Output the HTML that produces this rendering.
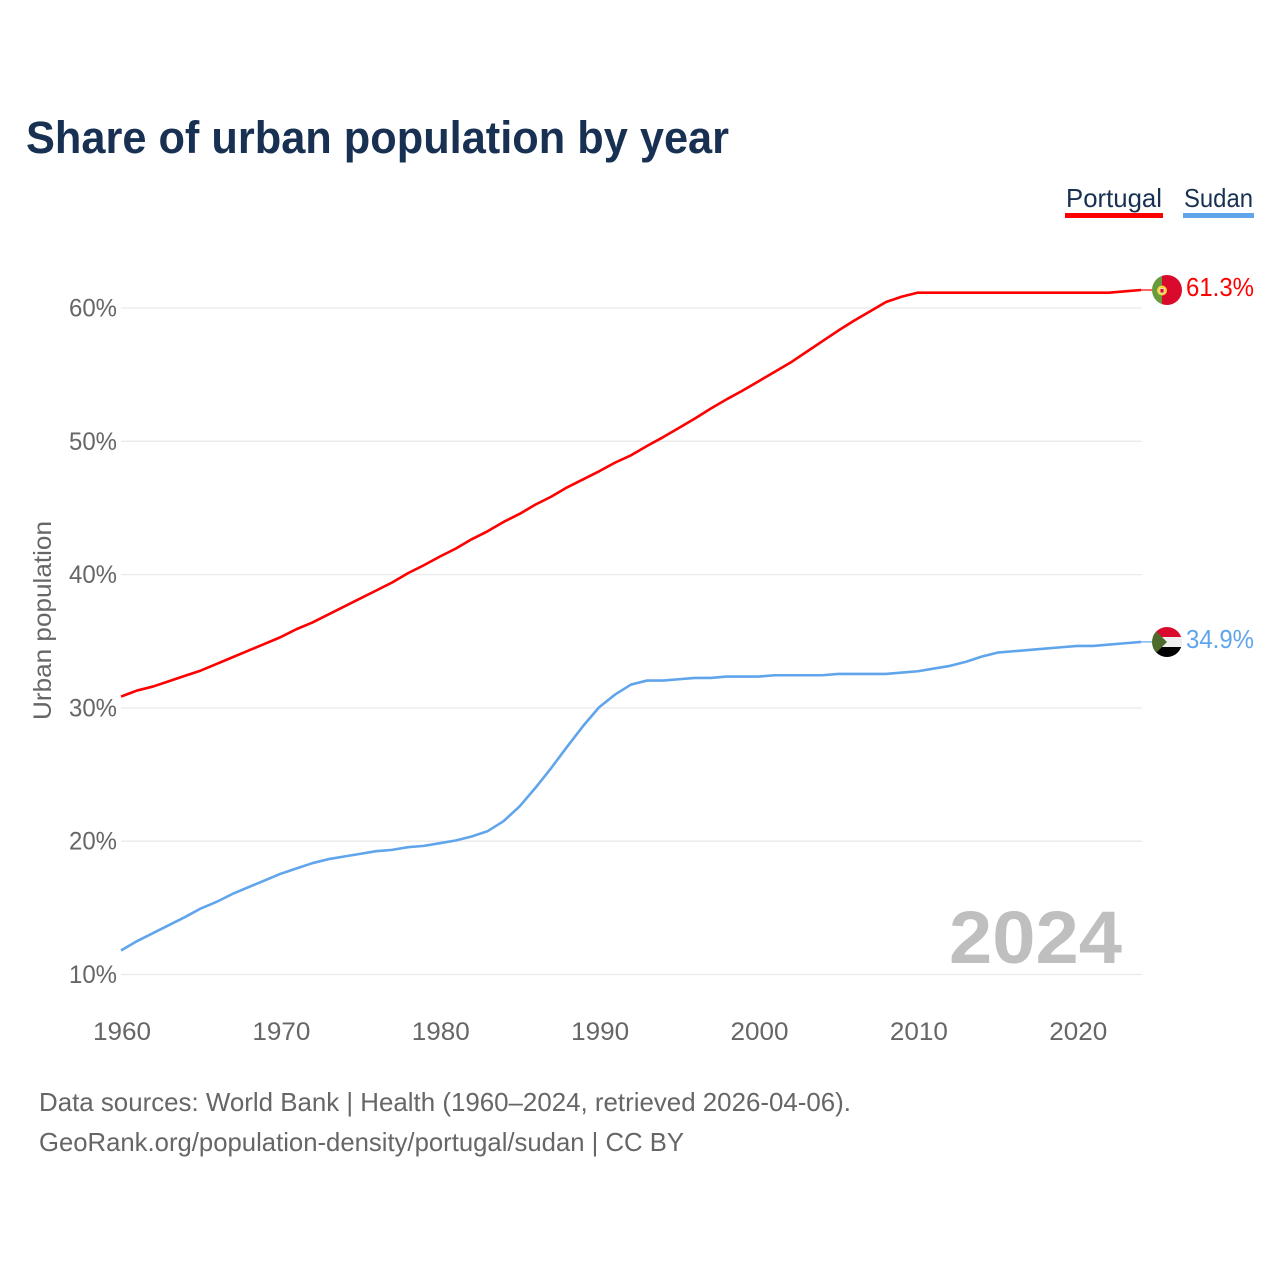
<!DOCTYPE html>
<html lang="en">
<head>
<meta charset="utf-8">
<title>Share of urban population by year</title>
<style>
html,body{margin:0;padding:0;background:#fff;}
svg{display:block;font-family:"Liberation Sans",sans-serif;}
</style>
</head>
<body>
<svg id="chart" width="1280" height="1280" viewBox="0 0 1280 1280" xmlns="http://www.w3.org/2000/svg">
  <defs>
    <clipPath id="clip-pt"><circle cx="1167" cy="290" r="15"/></clipPath>
    <clipPath id="clip-sd"><circle cx="1167" cy="642" r="15"/></clipPath>
  </defs>
  <rect width="1280" height="1280" fill="#fff"/>
  <text x="26" y="153" font-size="45" font-weight="700" fill="#183153" textLength="703" lengthAdjust="spacingAndGlyphs">Share of urban population by year</text>
  <g>
    <g>
      <text x="1066" y="207" font-size="26" fill="#183153" textLength="96" lengthAdjust="spacingAndGlyphs">Portugal</text>
      <rect x="1065" y="213" width="98" height="5" fill="#ff0000"/>
    </g>
    <g>
      <text x="1184" y="207" font-size="26" fill="#183153" textLength="69" lengthAdjust="spacingAndGlyphs">Sudan</text>
      <rect x="1183" y="213" width="71" height="5" fill="#60a5eb"/>
    </g>
  </g>
  <g id="grid"></g>
  <g id="yticks"></g>
  <g id="xticks"></g>
  <text transform="translate(51,720) rotate(-90)" font-size="25" fill="#666" textLength="199" lengthAdjust="spacingAndGlyphs">Urban population</text>
  <text x="949" y="963" font-size="74" font-weight="700" fill="#bfbfbf" textLength="173" lengthAdjust="spacingAndGlyphs">2024</text>
  <g id="series"></g>
  <g clip-path="url(#clip-pt)">
    <rect x="1152" y="275" width="10" height="30" fill="#6a9a3e"/>
    <rect x="1162" y="275" width="20" height="30" fill="#da0a2c"/>
    <circle cx="1162" cy="290.5" r="5" fill="#f2d53c"/>
    <rect x="1160" y="288.5" width="4" height="4.5" fill="#da0a2c" stroke="#f5f0d8" stroke-width="0.8"/>
  </g>
  <g clip-path="url(#clip-sd)">
    <rect x="1152" y="627" width="30" height="10" fill="#da0a2c"/>
    <rect x="1152" y="637" width="30" height="10" fill="#eeeeee"/>
    <rect x="1152" y="647" width="30" height="10" fill="#000"/>
    <polygon points="1152,627 1167,642 1152,657" fill="#4d6b2c"/>
  </g>
  <text x="1186" y="296" font-size="26" fill="#ff0000" textLength="68" lengthAdjust="spacingAndGlyphs">61.3%</text>
  <text x="1186" y="648" font-size="26" fill="#60a5eb" textLength="68" lengthAdjust="spacingAndGlyphs">34.9%</text>
  <text x="39" y="1111" font-size="26" fill="#666" textLength="812" lengthAdjust="spacingAndGlyphs">Data sources: World Bank | Health (1960–2024, retrieved 2026-04-06).</text>
  <text x="39" y="1151" font-size="26" fill="#666" textLength="645" lengthAdjust="spacingAndGlyphs">GeoRank.org/population-density/portugal/sudan | CC BY</text>
</svg>
<script>
const years = [];
for (let y = 1960; y <= 2024; y++) years.push(y);
const portugal = [30.85,31.3,31.6,32.0,32.4,32.8,33.3,33.8,34.3,34.8,35.3,35.9,36.4,37.0,37.6,38.2,38.8,39.4,40.1,40.7,41.35,41.95,42.65,43.25,43.95,44.55,45.25,45.85,46.55,47.15,47.75,48.4,48.95,49.65,50.3,51.0,51.7,52.45,53.15,53.8,54.5,55.2,55.9,56.7,57.5,58.3,59.05,59.75,60.45,60.85,61.15,61.15,61.15,61.15,61.15,61.15,61.15,61.15,61.15,61.15,61.15,61.15,61.15,61.25,61.35];
const sudan = [11.8,12.5,13.1,13.7,14.3,14.95,15.45,16.05,16.55,17.05,17.55,17.95,18.35,18.65,18.85,19.05,19.25,19.35,19.55,19.65,19.85,20.05,20.35,20.75,21.5,22.6,24.0,25.5,27.1,28.65,30.05,31.0,31.75,32.05,32.05,32.15,32.25,32.25,32.35,32.35,32.35,32.45,32.45,32.45,32.45,32.55,32.55,32.55,32.55,32.65,32.75,32.95,33.15,33.45,33.85,34.15,34.25,34.35,34.45,34.55,34.65,34.65,34.75,34.85,34.95];
const yTicks = [10,20,30,40,50,60];
const yTickLabels = ['10%','20%','30%','40%','50%','60%'];
const xTicks = [1960,1970,1980,1990,2000,2010,2020];
const NS = 'http://www.w3.org/2000/svg';
function xScale(year){ return 121 + (year - 1960) * (1141 - 121) / 64; }
function yScale(v){ return 974.5 - (v - 10) * (974.5 - 308) / 50; }
function make(tag, attrs, parent, text){
  const el = document.createElementNS(NS, tag);
  for (const k in attrs) el.setAttribute(k, attrs[k]);
  if (text !== undefined) el.textContent = text;
  parent.appendChild(el);
  return el;
}
const grid = document.getElementById('grid');
const yt = document.getElementById('yticks');
const xt = document.getElementById('xticks');
const series = document.getElementById('series');
yTicks.forEach(function(v, i){
  const line = make('line', {x1:121, x2:1142, y1:yScale(v), y2:yScale(v), stroke:'#eaeaea', 'stroke-width':1.3}, grid);
  
  
  const label = make('text', {x:117, y:yScale(v)+8.5, 'text-anchor':'end', 'font-size':25, fill:'#666', textLength:48, lengthAdjust:'spacingAndGlyphs'}, yt, yTickLabels[i]);
  
  
});
xTicks.forEach(function(y){
  const label = make('text', {x:xScale(y)+1, y:1040, 'text-anchor':'middle', 'font-size':25, fill:'#666', textLength:58, lengthAdjust:'spacingAndGlyphs'}, xt, String(y));
  
  
});
function drawSeries(values, color, name){
  const d = values.map(function(v, i){ return (i ? 'L' : 'M') + xScale(years[i]).toFixed(2) + ' ' + yScale(v).toFixed(2); }).join(' ');
  const path = make('path', {d:d, fill:'none', stroke:color, 'stroke-width':2.6, 'stroke-linejoin':'round'}, series);
  
  
  const last = yScale(values[values.length - 1]);
  const stub = make('line', {x1:1141, x2:1153, y1:last, y2:last, stroke:color, 'stroke-width':1.2}, series);
  
  
}
drawSeries(portugal, '#ff0000', 'portugal');
drawSeries(sudan, '#60a5eb', 'sudan');
</script>
</body>
</html>
